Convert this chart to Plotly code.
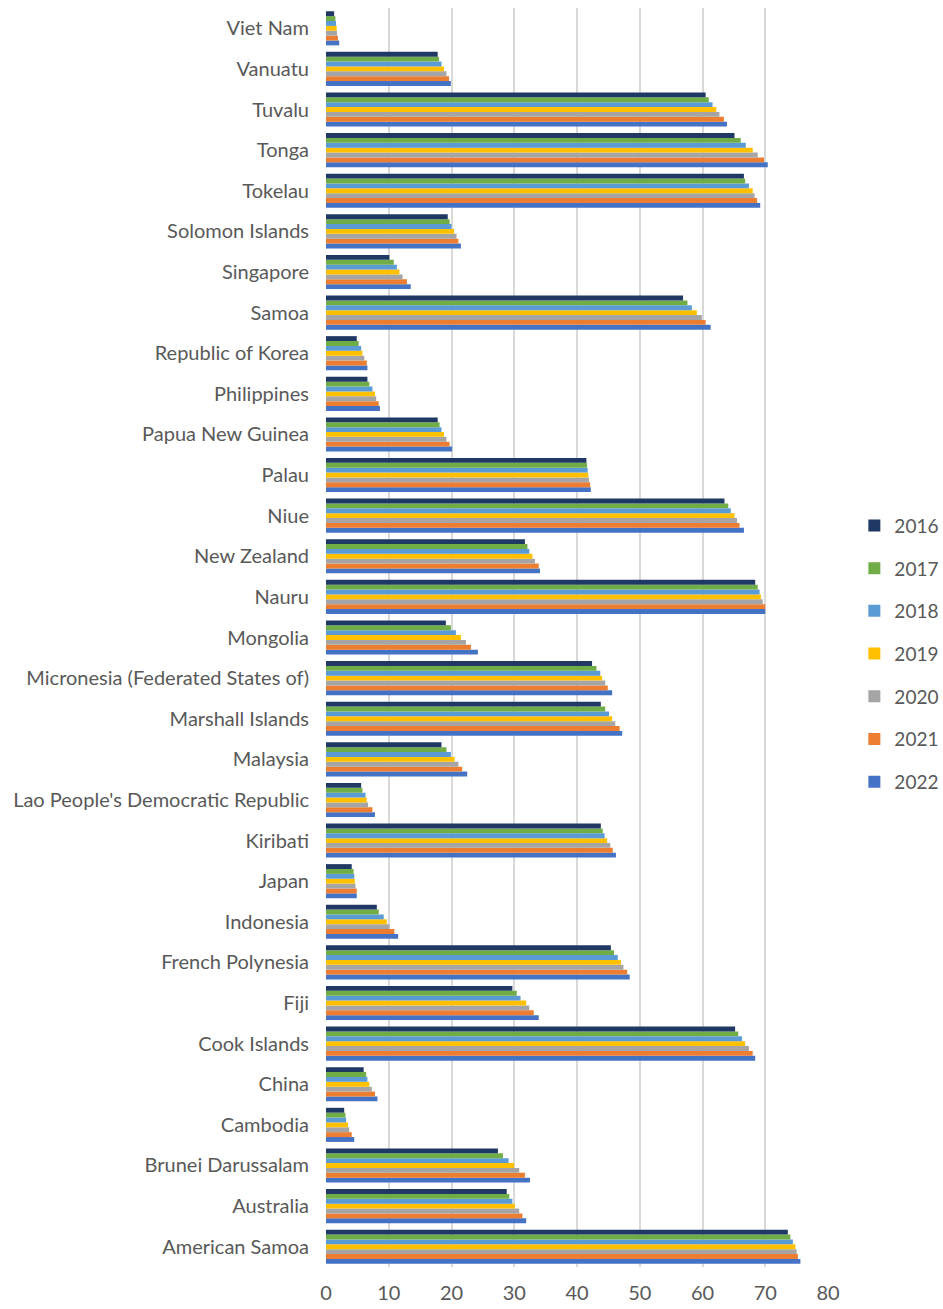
import plotly.graph_objects as go

countries = [
    "American Samoa", "Australia", "Brunei Darussalam", "Cambodia", "China",
    "Cook Islands", "Fiji", "French Polynesia", "Indonesia", "Japan", "Kiribati",
    "Lao People's Democratic Republic", "Malaysia", "Marshall Islands",
    "Micronesia (Federated States of)", "Mongolia", "Nauru", "New Zealand", "Niue",
    "Palau", "Papua New Guinea", "Philippines", "Republic of Korea", "Samoa",
    "Singapore", "Solomon Islands", "Tokelau", "Tonga", "Tuvalu", "Vanuatu", "Viet Nam",
]

years = ["2016", "2017", "2018", "2019", "2020", "2021", "2022"]

v2016 = [73.6, 28.8, 27.4, 2.9, 6.0, 65.2, 29.7, 45.4, 8.1, 4.1, 43.8, 5.6, 18.4, 43.8,
         42.4, 19.1, 68.4, 31.7, 63.5, 41.5, 17.8, 6.6, 4.9, 56.9, 10.1, 19.4, 66.6, 65.1,
         60.5, 17.8, 1.3]
v2017 = [74.0, 29.2, 28.2, 3.1, 6.4, 65.7, 30.4, 45.9, 8.4, 4.4, 44.1, 5.8, 19.2, 44.5,
         43.1, 19.9, 68.8, 32.1, 64.1, 41.6, 18.1, 6.9, 5.2, 57.6, 10.8, 19.7, 66.8, 66.1,
         61.0, 18.0, 1.5]
v2018 = [74.4, 29.7, 29.1, 3.2, 6.6, 66.3, 31.0, 46.5, 9.2, 4.5, 44.4, 6.3, 19.9, 45.1,
         43.7, 20.7, 69.1, 32.4, 64.5, 41.7, 18.4, 7.4, 5.6, 58.3, 11.3, 20.0, 67.4, 66.9,
         61.6, 18.4, 1.6]
v2019 = [74.8, 30.1, 30.0, 3.5, 6.9, 66.8, 31.9, 47.0, 9.7, 4.6, 44.8, 6.5, 20.5, 45.6,
         44.0, 21.5, 69.3, 32.9, 65.1, 41.8, 18.8, 7.8, 5.8, 59.1, 11.7, 20.4, 68.0, 68.0,
         62.2, 18.8, 1.7]
v2020 = [75.0, 30.8, 30.8, 3.7, 7.3, 67.4, 32.4, 47.4, 10.1, 4.7, 45.3, 6.7, 21.1, 46.1,
         44.5, 22.3, 69.6, 33.3, 65.5, 41.9, 19.2, 8.0, 6.1, 59.9, 12.2, 20.8, 68.3, 68.8,
         62.7, 19.2, 1.75]
v2021 = [75.2, 31.3, 31.7, 4.1, 7.8, 68.0, 33.1, 48.0, 10.9, 4.9, 45.7, 7.4, 21.7, 46.8,
         44.9, 23.1, 70.0, 33.9, 65.9, 42.1, 19.7, 8.4, 6.5, 60.5, 12.9, 21.1, 68.7, 69.8,
         63.4, 19.6, 1.9]
v2022 = [75.6, 31.9, 32.5, 4.5, 8.2, 68.4, 33.9, 48.4, 11.5, 4.9, 46.2, 7.8, 22.5, 47.2,
         45.6, 24.2, 70.0, 34.1, 66.6, 42.2, 20.1, 8.6, 6.6, 61.3, 13.5, 21.5, 69.2, 70.4,
         63.9, 19.9, 2.1]

series = [v2016, v2017, v2018, v2019, v2020, v2021, v2022]
colors = ["#203864", "#70AD47", "#5B9BD5", "#FFC000", "#A5A5A5", "#ED7D31", "#4472C4"]

fig = go.Figure()
# Added newest first so the oldest year sits at the top of each group;
# legendrank keeps the legend in chronological order.
for rank, (year, vals, col) in reversed(list(enumerate(zip(years, series, colors)))):
    fig.add_trace(go.Bar(
        name=year, y=countries, x=vals, orientation="h",
        marker=dict(color=col, line=dict(width=0)),
        legendgroup=year, legendrank=rank + 1,
    ))

text_col = "#595959"
fig.update_layout(
    width=943, height=1309,
    margin=dict(l=326, r=115, t=8, b=42),
    paper_bgcolor="white", plot_bgcolor="white",
    barmode="group", bargap=0.16, bargroupgap=0,
    font=dict(family="Lato, Open Sans, sans-serif", size=20, color=text_col),
    xaxis=dict(
        range=[0, 80], dtick=10, showgrid=True, gridcolor="#D9D9D9", gridwidth=1.5,
        zeroline=False, showline=False, ticks="", ticklabelstandoff=12,
        tickfont=dict(size=20, color=text_col), fixedrange=True, automargin=False,
    ),
    yaxis=dict(
        type="category", categoryorder="array", categoryarray=countries,
        showgrid=False, zeroline=False, showline=False, ticks="",
        ticklabelstandoff=16, tickfont=dict(size=20, color=text_col), automargin=False,
    ),
    legend=dict(
        xref="container", yref="container", x=0.906, y=0.613,
        xanchor="left", yanchor="top",
        traceorder="grouped", tracegroupgap=15,
        font=dict(size=19, color=text_col), itemwidth=30,
        bgcolor="rgba(0,0,0,0)",
    ),
    showlegend=True,
)

fig.write_html("out.html")
